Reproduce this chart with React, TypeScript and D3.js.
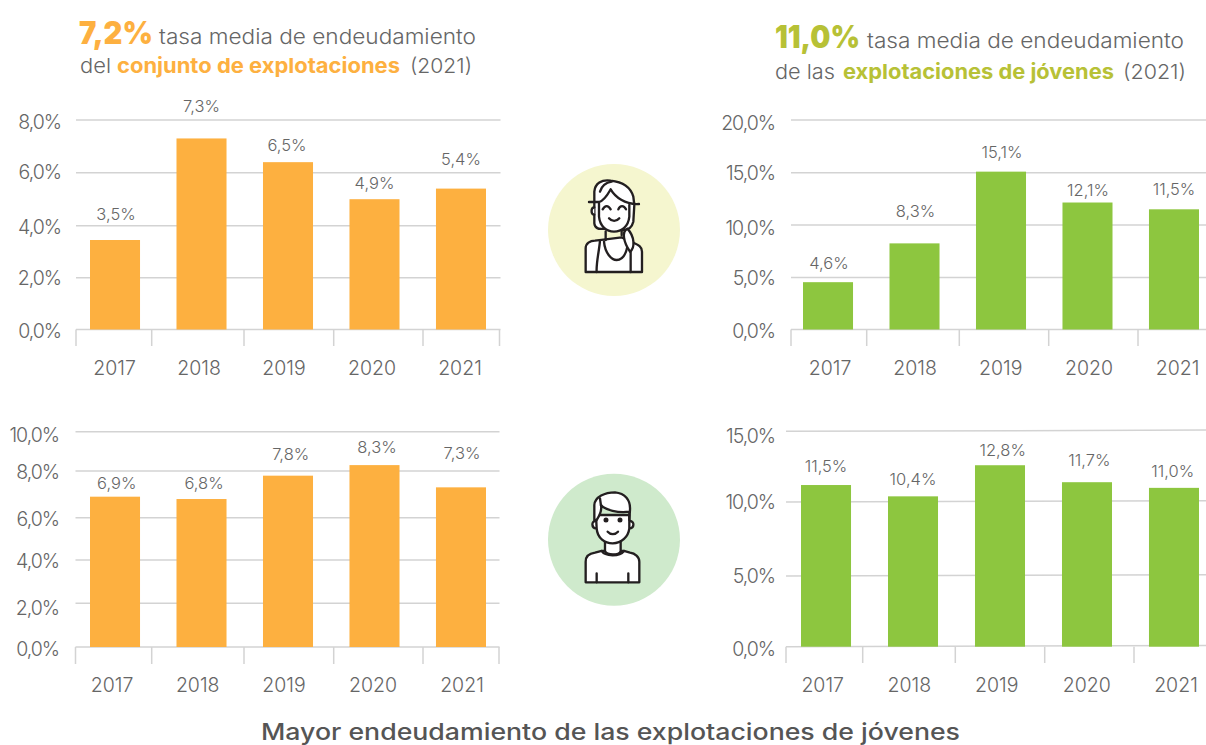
import React from "react";
import * as d3 from "d3";

const years = ["2017", "2018", "2019", "2020", "2021"];

// bars follow the heights in the picture, labels the printed text (they differ a little)
const allFarmsWomenValues = [3.45, 7.3, 6.4, 5.0, 5.4];
const allFarmsWomenLabels = ["3,5%", "7,3%", "6,5%", "4,9%", "5,4%"];
const youngFarmsWomenValues = [4.55, 8.25, 15.1, 12.15, 11.5];
const youngFarmsWomenLabels = ["4,6%", "8,3%", "15,1%", "12,1%", "11,5%"];
const allFarmsMenValues = [6.9, 6.8, 7.8, 8.3, 7.3];
const allFarmsMenLabels = ["6,9%", "6,8%", "7,8%", "8,3%", "7,3%"];
const youngFarmsMenValues = [11.2, 10.4, 12.6, 11.4, 11.0];
const youngFarmsMenLabels = ["11,5%", "10,4%", "12,8%", "11,7%", "11,0%"];

const ticksTo8 = [0, 2, 4, 6, 8];
const ticksTo10 = [0, 2, 4, 6, 8, 10];
const ticksTo20 = [0, 5, 10, 15, 20];
const ticksTo15 = [0, 5, 10, 15];

const ORANGE = "#FDB040";
const GREEN = "#8DC63F";
const OLIVE = "#B7C136";
const GREY = "#666666";
const GRID = "#D3D3D3";
const FONT = "Inter, 'Noto Sans', sans-serif";

const pct = d3.formatLocale({ decimal: ",", thousands: ".", grouping: [3], currency: ["", "€"] }).format(".1f");

type PanelProps = {
  values: number[];
  labels: string[];
  ticks: number[];
  gridY: number[]; // the source axis is not evenly spaced, one y per tick
  tickLabelDy: number[];
  color: string;
  barSpan: [number, number];
  padInner: number;
  edges: number[];
  gridEnd: number;
  tickLabelRight: number;
  tickBottom: number;
  yearY: number;
  tilt?: number;
  labelLift: number[];
  labelNudge: number[];
  yearNudge: number[];
};

function Panel(p: PanelProps) {
  const y = d3.scaleLinear().domain(p.ticks).range(p.gridY);
  const x = d3.scaleBand().domain(years).range(p.barSpan).paddingInner(p.padInner);
  const base = y(0);
  const tilt = p.tilt || 0;
  return (
    <g fontFamily={FONT} fill={GREY}>
      {p.ticks.map((t, i) => (
        <g key={t}>
          <line x1={p.edges[0]} x2={p.gridEnd} y1={y(t)} y2={y(t) + tilt} stroke={GRID} strokeWidth={1.5} />
          <text
            x={p.tickLabelRight}
            y={y(t) + p.tickLabelDy[i] + 0.5}
            textAnchor="end"
            dominantBaseline="central"
            fontSize={19.5}
            fontWeight={300}
            letterSpacing={-1}
          >
            {pct(t) + "%"}
          </text>
        </g>
      ))}
      {p.edges.map((e) => (
        <line key={e} x1={e} x2={e} y1={base} y2={p.tickBottom} stroke={GRID} strokeWidth={1.5} />
      ))}
      {years.map((yr, i) => {
        const cx = x(yr)! + x.bandwidth() / 2;
        const top = y(p.values[i]);
        return (
          <g key={yr}>
            <rect x={x(yr)} y={top} width={x.bandwidth()} height={base - top} fill={p.color} />
            <text x={cx + p.labelNudge[i]} y={top - p.labelLift[i]} textAnchor="middle" dominantBaseline="central" fontSize={16.5} fontWeight={300}>
              {p.labels[i]}
            </text>
            <text x={cx + p.yearNudge[i]} y={p.yearY} textAnchor="middle" dominantBaseline="central" fontSize={19.5} fontWeight={300}>
              {yr}
            </text>
          </g>
        );
      })}
    </g>
  );
}

function Heading(props: { x: number; y: number; width: number; size: number; weight: number; color: string; children: string }) {
  return (
    <text
      x={props.x}
      y={props.y}
      textLength={props.width}
      lengthAdjust="spacingAndGlyphs"
      fontFamily={FONT}
      fontSize={props.size}
      fontWeight={props.weight}
      fill={props.color}
    >
      {props.children}
    </text>
  );
}

function Woman() {
  return (
    <g transform="translate(540,150) scale(0.3333)" fill="none" stroke="#231F20" strokeWidth={7} strokeLinecap="round" strokeLinejoin="round">
      <circle cx={222} cy={240} r={198} fill="#F5F6CF" stroke="none" />
      <path fill="#fff" d="M137,366 L137,295 C137,280 150,272 165,272 L197,268 L245,262 L280,278 C295,285 306,290 306,305 L306,366 Z" />
      <path fill="#fff" d="M163,156 L163,125 C165,100 185,88 212,92 C240,95 270,105 280,140 L283,165 L280,215 C275,235 262,240 250,240 L190,236 C175,238 165,235 163,220 Z" />
      <path fill="#fff" d="M177,160 L177,200 C180,230 200,245 222,245 C245,245 265,230 268,200 L268,165 L212,118 L178,156 Z" stroke="none" />
      <path d="M177,160 L177,200 C180,230 200,245 222,245 C245,245 265,230 268,200 L268,165" />
      <path d="M147,156 L178,156 C195,150 205,130 212,118 C225,140 255,165 297,162" />
      <path d="M180,125 C185,108 197,98 215,95" />
      <path fill="#fff" d="M163,172 C152,172 152,194 163,194" />
      <path d="M197,244 L197,270 M245,240 L245,256" />
      <path d="M180,272 C178,300 168,340 170,366" />
      <path d="M192,275 C195,310 215,330 230,330 C250,330 258,310 262,290" />
      <path fill="#fff" d="M262,236 C245,245 250,275 270,305 C285,295 285,260 262,236 Z" />
      <path d="M272,305 L272,366" />
      <path d="M188,178 C195,165 205,165 212,178 M235,178 C240,165 252,165 258,178 M207,205 C215,215 230,215 238,205" />
    </g>
  );
}

function Man() {
  return (
    <g transform="translate(540,465) scale(0.3333)" fill="none" stroke="#231F20" strokeWidth={7} strokeLinecap="round" strokeLinejoin="round">
      <circle cx={222} cy={224} r={198} fill="#CFEACC" stroke="none" />
      <path fill="#fff" d="M137,352 L137,290 C137,272 150,265 165,263 L185,258 L252,258 L270,263 C285,265 298,275 298,290 L298,352 Z" />
      <path fill="#fff" d="M195,225 L195,258 C200,272 238,272 242,258 L242,225 Z" />
      <path d="M185,258 C195,275 240,275 252,258" />
      <path fill="#fff" d="M166,168 C154,168 154,190 168,190 M270,168 C284,168 284,190 268,190" />
      <path fill="#fff" d="M168,150 L170,190 C172,220 195,235 218,235 C245,235 265,215 268,190 L268,150 Z" />
      <path fill="#fff" d="M163,165 L163,120 C165,95 195,82 225,82 C255,85 272,105 270,135 L268,165 L268,140 C235,145 195,135 183,120 C186,135 180,150 170,165 Z" />
      <path d="M180,100 L183,122" />
      <path d="M203,200 C212,210 225,210 234,200 M170,325 V352 M265,325 V352" />
      <circle cx={198} cy={165} r={4} fill="#231F20" />
      <circle cx={240} cy={165} r={4} fill="#231F20" />
    </g>
  );
}

export default function App() {
  return (
    <svg width={1206} height={745} style={{ position: "absolute", left: 0, top: 0, background: "#fff" }}>
      <Heading x={79} y={44} width={74} size={31} weight={900} color={ORANGE}>7,2%</Heading>
      <Heading x={159} y={44} width={317} size={20.5} weight={300} color={GREY}>tasa media de endeudamiento</Heading>
      <Heading x={80} y={73} width={31} size={20.5} weight={300} color={GREY}>del</Heading>
      <Heading x={117} y={73} width={283} size={20.5} weight={700} color={ORANGE}>conjunto de explotaciones</Heading>
      <Heading x={410} y={73} width={62} size={20.5} weight={300} color={GREY}>(2021)</Heading>

      <Heading x={775} y={48} width={85} size={31} weight={900} color={OLIVE}>11,0%</Heading>
      <Heading x={867} y={48} width={317} size={20.5} weight={300} color={GREY}>tasa media de endeudamiento</Heading>
      <Heading x={775} y={79} width={60} size={20.5} weight={300} color={GREY}>de las</Heading>
      <Heading x={843} y={79} width={271} size={20.5} weight={700} color={OLIVE}>explotaciones de jóvenes</Heading>
      <Heading x={1123} y={79} width={63} size={20.5} weight={300} color={GREY}>(2021)</Heading>

      <Panel
        values={allFarmsWomenValues}
        labels={allFarmsWomenLabels}
        ticks={ticksTo8}
        gridY={[329.5, 277.7, 225.7, 172.7, 120]}
        tickLabelDy={[0.5, -0.4, 1, -1, 1.7]}
        color={ORANGE}
        barSpan={[90, 486]}
        padInner={0.4216}
        edges={[76, 151.7, 244, 333.7, 423, 499.5]}
        gridEnd={500.5}
        tickLabelRight={61}
        tickBottom={346}
        yearY={367.5}
        labelLift={[26, 32, 17, 16, 30]}
        labelNudge={[1, 0, -1, 0, 0]}
        yearNudge={[-0.5, -2.5, -4, -2.5, -1]}
      />
      <Panel
        values={youngFarmsWomenValues}
        labels={youngFarmsWomenLabels}
        ticks={ticksTo20}
        gridY={[329.5, 277.5, 225, 172.7, 120]}
        tickLabelDy={[0.5, 0.2, 2.3, -0.4, 2.3]}
        color={GREEN}
        barSpan={[803, 1199]}
        padInner={0.4216}
        edges={[791, 866.7, 959.3, 1048.7, 1138]}
        gridEnd={1206}
        tickLabelRight={775}
        tickBottom={346}
        yearY={367.5}
        labelLift={[19, 32, 20, 13, 20]}
        labelNudge={[1, 1, 1, 0.5, 0]}
        yearNudge={[2, 0.5, -0.3, 1.5, 3.7]}
      />
      <Panel
        values={allFarmsMenValues}
        labels={allFarmsMenLabels}
        ticks={ticksTo10}
        gridY={[647, 603.3, 560, 517.7, 471, 431.7]}
        tickLabelDy={[1.3, 4.4, 0.7, 0.6, 0, 2.6]}
        color={ORANGE}
        barSpan={[90, 486]}
        padInner={0.4216}
        edges={[75.5, 151.7, 244, 333.7, 423, 499]}
        gridEnd={499.5}
        tickLabelRight={59}
        tickBottom={664}
        yearY={684.5}
        labelLift={[14, 16, 22, 18, 34]}
        labelNudge={[1.7, 2.5, 2.7, 2.5, 1]}
        yearNudge={[-3, -3.8, -4, -1.5, 1]}
      />
      <Panel
        values={youngFarmsMenValues}
        labels={youngFarmsMenLabels}
        ticks={ticksTo15}
        gridY={[646.7, 576, 502, 431.3]}
        tickLabelDy={[2, -0.7, -0.3, 3.7]}
        color={GREEN}
        barSpan={[801, 1199]}
        padInner={0.425}
        edges={[786, 862.7, 955.3, 1044.7, 1134]}
        gridEnd={1206}
        tickLabelRight={775}
        tickBottom={663}
        yearY={684.5}
        tilt={-1.2}
        labelLift={[19, 17, 15, 22, 17]}
        labelNudge={[0, 0, 2.7, 2.3, -1.3]}
        yearNudge={[-3.3, -3.7, -3.3, -0.3, 2]}
      />

      <Woman />
      <Man />

      <Heading x={261} y={739.5} width={699} size={22.5} weight={500} color="#555555">Mayor endeudamiento de las explotaciones de jóvenes</Heading>
    </svg>
  );
}
